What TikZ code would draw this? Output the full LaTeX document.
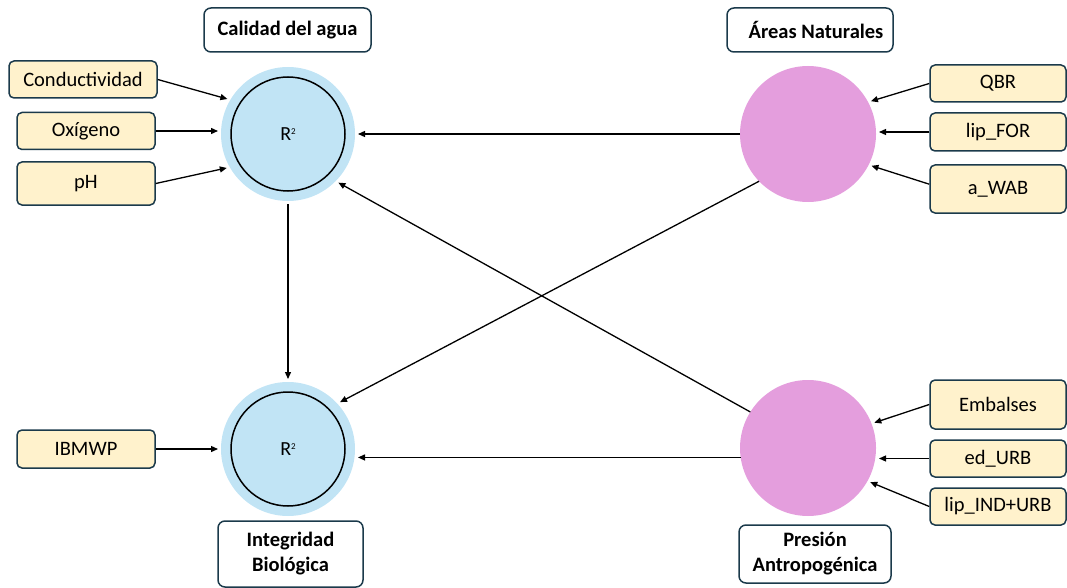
\documentclass[tikz,border=0pt]{standalone}
\usepackage{fontspec}
\setmainfont{Carlito}
\usetikzlibrary{arrows.meta}
\definecolor{lblue}{HTML}{C1E4F5}
\definecolor{pinkc}{HTML}{E49EDD}
\definecolor{cream}{HTML}{FFF2CC}
\definecolor{edgec}{HTML}{1B3A4B}
\newcommand{\rsq}{R\raisebox{6pt}{\fontsize{9}{9}\selectfont 2}}
\begin{document}
\begin{tikzpicture}[x=1pt,y=-1pt,
  indbox/.style={draw=edgec, line width=1.5pt, fill=cream, rounded corners=5pt,
    inner sep=0pt, font=\fontsize{20.5}{24}\selectfont, minimum width=138pt, minimum height=37pt},
  titlebox/.style={draw=edgec, line width=1.5pt, fill=white, rounded corners=7pt,
    inner sep=0pt, align=center, font=\fontsize{20.5}{25}\selectfont\bfseries},
  bluecirc/.style={circle, fill=lblue, minimum size=134pt, inner sep=0pt, outer sep=3pt},
  innercirc/.style={circle, draw=black, line width=1.5pt, minimum size=114pt, inner sep=0pt,
    font=\fontsize{20}{24}\selectfont},
  pinkcirc/.style={circle, fill=pinkc, minimum size=136pt, inner sep=0pt, outer sep=0pt},
  arr/.style={draw=black, line width=1.3pt, -{Triangle[length=7pt,width=6pt]}},
  arrin/.style={arr, shorten >=3pt}]
\useasboundingbox (0,0) rectangle (1067,588);

% latent variables
\node[bluecirc] (cal) at (288,134) {};
\node[innercirc] (calin) at (288,134) {\rsq};
\node[bluecirc] (int) at (288,449) {};
\node[innercirc] (intin) at (288,449) {\rsq};
\node[pinkcirc] (are) at (808,134) {};
\node[pinkcirc] (pres) at (808,448) {};

% titles
\node[titlebox, minimum width=167pt, minimum height=44pt] (tcal) at (287.5,30) {Calidad del agua};
\node[titlebox, minimum width=166pt, minimum height=44pt] (tare) at (810,30) {\hspace{12pt}Áreas Naturales};
\node[titlebox, minimum width=145pt, minimum height=66pt] (tint) at (290.5,554) {Integridad\\Biológica};
\node[titlebox, minimum width=152pt, minimum height=58pt] (tpre) at (815,554) {Presión\\Antropogénica};

% indicators left
\node[indbox, minimum width=148pt] (cond) at (83,79.5) {Conductividad};
\node[indbox] (oxi) at (86,131) {Oxígeno};
\node[indbox, minimum height=43pt] (ph) at (86,183.5) {pH};
\node[indbox, minimum height=38pt] (ibm) at (86,449) {IBMWP};

% indicators right
\node[indbox, minimum width=136pt] (qbr) at (998,83.5) {QBR};
\node[indbox, minimum width=136pt, minimum height=38pt] (lipfor) at (998,132) {lip\_FOR};
\node[indbox, minimum width=136pt, minimum height=48pt] (awab) at (998,189) {a\_WAB};
\node[indbox, minimum width=136pt, minimum height=49pt] (emb) at (998,404.5) {Embalses};
\node[indbox, minimum width=136pt] (edurb) at (998,458.5) {ed\_URB};
\node[indbox, minimum width=136pt] (lipind) at (998,506.5) {lip\_IND+URB};

% indicator arrows
\draw[arr] (cond.east) -- (cal.150);
\draw[arr] (oxi.east) -- (oxi.east -| cal.west);
\draw[arr] (ph.east) -- (cal.209);
\draw[arr] (ibm.east) -- (ibm.east -| int.west);
\draw[arrin] (qbr.west) -- (are.28);
\draw[arrin] (lipfor.west) -- (lipfor.west -| are.east);
\draw[arrin] (awab.176) -- (are.333);
\draw[arrin] (emb.west) -- (pres.21);
\draw[arrin] (edurb.west) -- (edurb.west -| pres.east);
\draw[arrin] (lipind.west) -- (pres.331);

% structural arrows
\draw[arr] (are.west) -- (are.west -| cal.east);
\draw[arr] (pres.148) -- (cal.316);
\draw[arr] (cal.270) -- (int.90);
\draw[arr] (are.224) -- (int.42);
\draw[arr] (pres.188) -- (pres.188 -| int.east);
\end{tikzpicture}
\end{document}
